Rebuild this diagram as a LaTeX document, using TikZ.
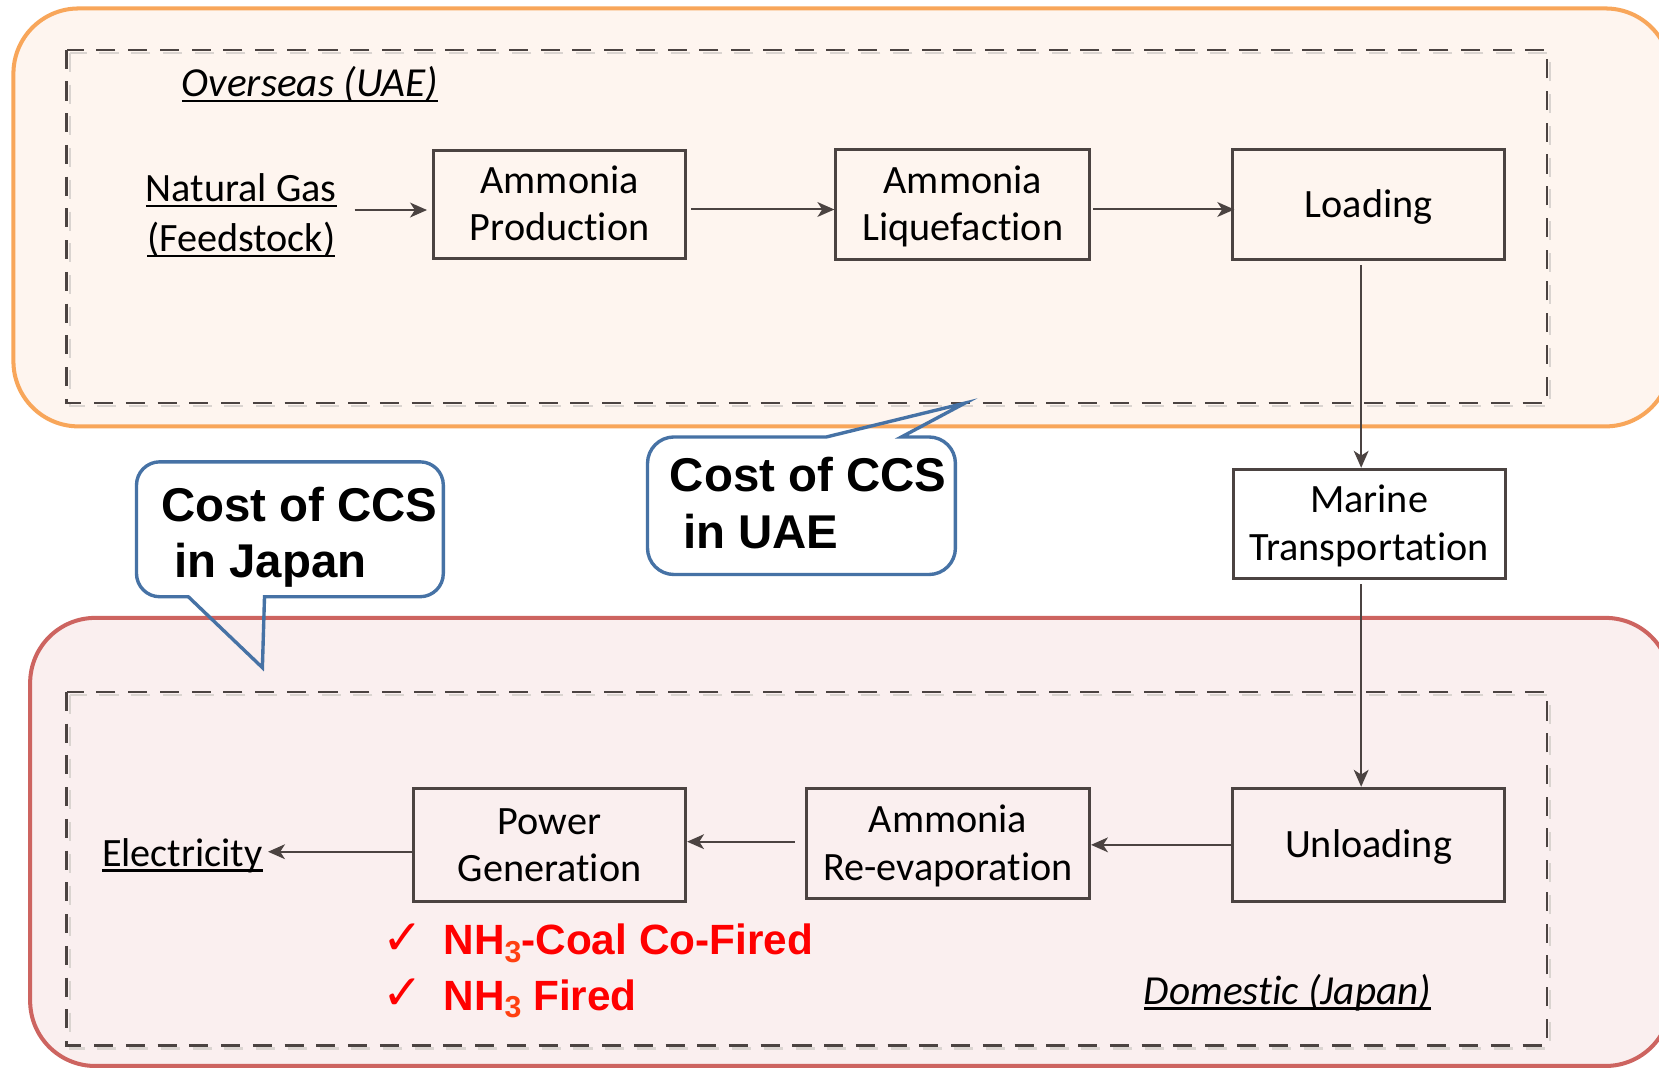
\documentclass[tikz,border=0pt]{standalone}
\usepackage{fontspec}
\setmainfont{Carlito}[RawFeature={-liga;-dlig;-clig;-calt}]
\newfontfamily\arialf{Liberation Sans}
\newfontfamily\djv{DejaVu Sans}
\usetikzlibrary{arrows.meta}
\definecolor{orgline}{HTML}{F8A65A}
\definecolor{orgfill}{HTML}{FEF5EF}
\definecolor{redline}{HTML}{CD6460}
\definecolor{redfill}{HTML}{FAEFEF}
\definecolor{blueline}{HTML}{4672A5}
\definecolor{boxline}{HTML}{4B4341}
\definecolor{dashshadow}{HTML}{DAD4D0}
\definecolor{subred}{HTML}{FF4010}
\newsavebox\ulbox
\newcommand\myul[1]{\sbox\ulbox{#1}\rlap{\rule[-5.4pt]{\wd\ulbox}{2.2pt}}\usebox\ulbox}
\newcommand\bstrut{\rule[-9.5pt]{0pt}{43.5pt}}
\begin{document}
\begin{tikzpicture}[x=1pt,y=-1pt,
  region/.style={line width=3.8pt, rounded corners=61.5pt},
  dashbox/.style={draw=boxline, line width=2.2pt, dash pattern=on 18pt off 12pt},
  dashshad/.style={draw=dashshadow, line width=2.2pt, dash pattern=on 18pt off 12pt},
  procbox/.style={draw=boxline, line width=2.8pt, inner sep=0pt, align=center, font=\fontsize{38}{45}\selectfont},
  plain/.style={inner sep=0pt, align=center, font=\fontsize{38}{45}\selectfont},
  arr/.style={draw=boxline, line width=1.9pt, -{Stealth[length=16pt,width=14pt,inset=4.5pt]}},
  callout/.style={draw=blueline, line width=3.2pt},
  cctext/.style={anchor=base west, inner sep=0pt, font=\arialf\bfseries\fontsize{44.8}{50}\selectfont},
  redtext/.style={anchor=base west, inner sep=0pt, text=red, font=\arialf\bfseries\fontsize{40}{48}\selectfont},
  chk/.style={anchor=base west, inner sep=0pt, text=red, font=\djv\fontsize{46}{46}\selectfont},
  ital/.style={anchor=base west, inner sep=0pt, font=\itshape\fontsize{39}{45}\selectfont}
]
\useasboundingbox (0,0) rectangle (1568,1009);
\fill[white] (0,0) rectangle (1568,1009);

% regions
\draw[region, draw=orgline, fill=orgfill] (12.7,8) rectangle (1579,403);
\draw[region, draw=redline, fill=redfill] (28.5,584) rectangle (1579,1007.5);
\draw[dashshad] (66,50) rectangle (1465,384);
\draw[dashbox] (63,47) rectangle (1462,381);
\draw[dashshad] (66,657) rectangle (1465,991);
\draw[dashbox] (63,654) rectangle (1462,988);

% callouts
\draw[callout] (870,413) [rounded corners=25pt] -- (903,413) -- (903,543) -- (612,543) -- (612,413) -- (700,413) [sharp corners] -- (781,413) -- (912,381) -- (852,413) -- cycle;
\draw[callout] (300,436.5) [rounded corners=22pt] -- (419,436.5) -- (419,564) -- (330,564) [sharp corners] -- (250,564) -- (248,631) -- (178,564) -- (160,564) [rounded corners=22pt] -- (129,564) -- (129,436.5) -- cycle;
\node[cctext] (cc1a) at (633,465) {Cost of CCS};
\node[cctext] (cc1b) at (633,518) {\ in UAE};
\node[cctext] (cc2a) at (152,493) {Cost of CCS};
\node[cctext] (cc2b) at (152,546) {\ in Japan};

% labels
\node[ital] (ovs) at (171.7,91.4) {\myul{Overseas (UAE)}};
\node[ital] (dom) at (1081,949) {\myul{Domestic (Japan)}};
\node[plain, font=\fontsize{38}{47.4}\selectfont] (ng) at (228,202) {\bstrut\myul{Natural Gas}\\\bstrut\myul{(Feedstock)}};
\node[plain] (elec) at (172.3,806.25) {\bstrut\myul{Electricity}};

% process boxes
\node[procbox, minimum width=238pt, minimum height=102pt] (prod) at (529,193) {\bstrut Ammonia\\\bstrut Production};
\node[procbox, minimum width=240pt, minimum height=104pt] (liq) at (910,193) {\bstrut Ammonia\\\bstrut Liquefaction};
\node[procbox, minimum width=257pt, minimum height=104pt] (load) at (1293.5,193) {\bstrut Loading};
\node[procbox, fill=white, minimum width=257pt, minimum height=103pt] (marine) at (1294,495) {\bstrut Marine\\\bstrut Transportation};
\node[procbox, minimum width=257pt, minimum height=107pt] (unload) at (1293.5,798.5) {\bstrut Unloading};
\node[procbox, minimum width=267.5pt, minimum height=104pt] (reevap) at (896,797) {\bstrut Ammonia\\\bstrut Re-evaporation};
\node[procbox, minimum width=257pt, minimum height=107pt] (power) at (519.5,798.5) {\bstrut Power\\\bstrut Generation};

% red notes
\node[chk] (chk1) at (361,902) {✓};
\node[chk] (chk2) at (361,954) {✓};
\node[redtext] (r1) at (419,902.6) {NH\raisebox{-7.5pt}{\fontsize{28.6}{30}\selectfont\color{subred}3}-Coal Co-Fired};
\node[redtext] (r2) at (419,954.6) {NH\raisebox{-7.5pt}{\fontsize{28.6}{30}\selectfont\color{subred}3} Fired};

% connectors
\draw[arr] ([xshift=17pt,yshift=3.5pt]ng.east) -- ([xshift=-5pt,yshift=-5.5pt]prod.west);
\draw[arr] ([xshift=4pt,yshift=-5pt]prod.east) -- ([yshift=-5pt]liq.west);
\draw[arr] ([xshift=2pt,yshift=-5pt]liq.east) -- ([xshift=3pt,yshift=-5pt]load.west);
\draw[arr] ([xshift=-7pt,yshift=-4pt]load.south) -- ([xshift=-7.5pt]marine.north);
\draw[arr] ([xshift=-7.5pt,yshift=-4.5pt]marine.south) -- ([xshift=-7pt]unload.north);
\draw[arr] (unload.west) -- ([yshift=-1.5pt]reevap.east);
\draw[arr] ([xshift=-9.5pt,yshift=1.5pt]reevap.west) -- ([yshift=3pt]power.east);
\draw[arr] ([yshift=-6.5pt]power.west) -- ([xshift=5pt,yshift=1.25pt]elec.east);
\end{tikzpicture}
\end{document}
